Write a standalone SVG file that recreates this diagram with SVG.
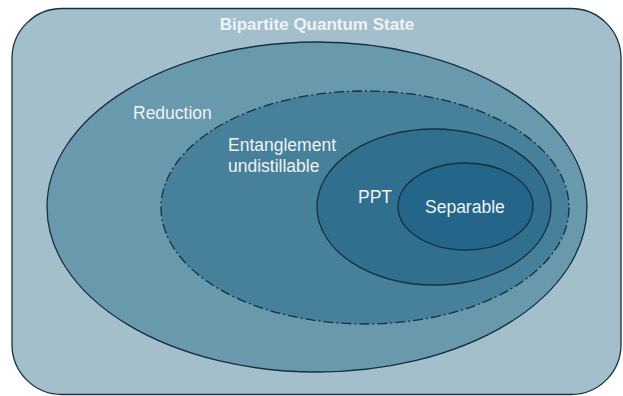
<svg xmlns="http://www.w3.org/2000/svg" width="623" height="396" viewBox="0 0 623 396">
<style>
.s{stroke:#16303f;stroke-width:1.3}
.t{font-family:"Liberation Sans",Arial,sans-serif;font-size:17.5px;fill:#eef3f6}
.b{font-weight:bold;font-size:17px}
</style>
<rect width="623" height="396" fill="#ffffff"/>
<g id="bipartite">
<rect class="s" x="12" y="8.5" width="609" height="386" rx="50" ry="50" fill="#a3bfcc"/>
<text class="t b" x="317" y="30" text-anchor="middle">Bipartite Quantum State</text>
</g>
<g id="reduction">
<ellipse class="s" cx="317" cy="207" rx="270" ry="165" fill="#6899ad"/>
<text class="t" x="133" y="119">Reduction</text>
</g>
<g id="undistillable">
<ellipse class="s" cx="365" cy="207.5" rx="204" ry="116.5" fill="#47809a" stroke-dasharray="10 3 2 3"/>
<text class="t" x="228" y="151">Entanglement</text>
<text class="t" x="228" y="171.5">undistillable</text>
</g>
<g id="ppt">
<ellipse class="s" cx="434" cy="207" rx="117" ry="78" fill="#306f8e"/>
<text class="t" x="358" y="203">PPT</text>
</g>
<g id="separable">
<ellipse class="s" cx="465.5" cy="206.5" rx="67.5" ry="43.5" fill="#23668a"/>
<text class="t" x="425" y="213">Separable</text>
</g>
<g id="connectors"></g>
</svg>
